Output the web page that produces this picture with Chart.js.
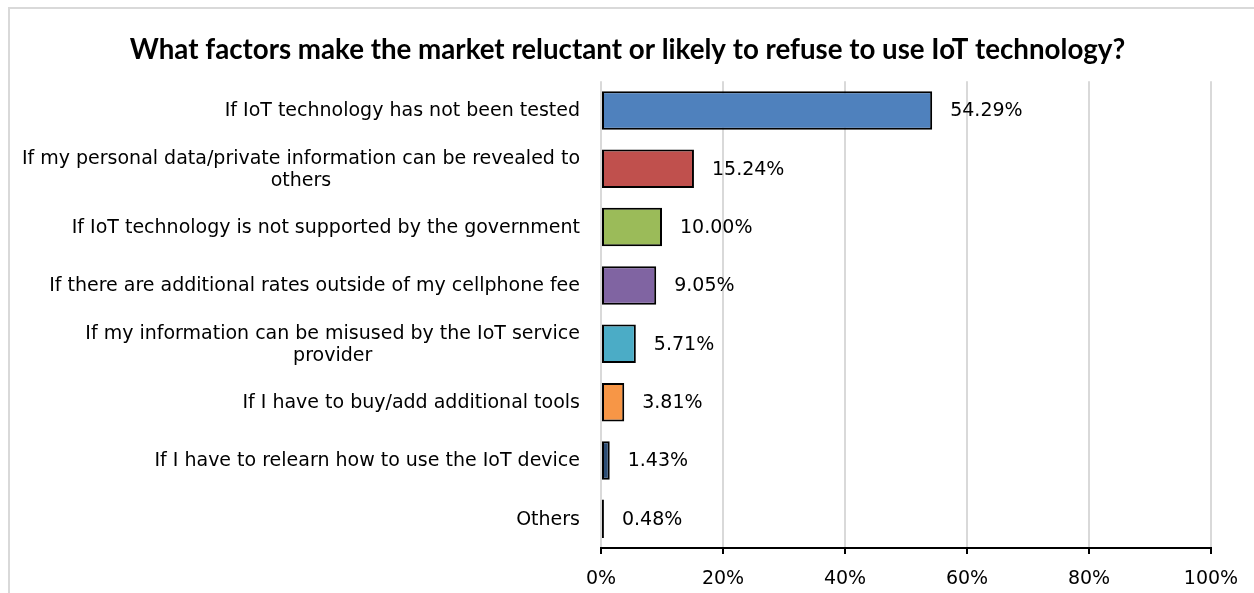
<!DOCTYPE html>
<html>
<head>
<meta charset="utf-8">
<script src="https://cdn.jsdelivr.net/npm/chart.js@4.4.1/dist/chart.umd.min.js"></script>
<style>
  html, body { margin: 0; padding: 0; background: #fff; }
  #wrap { position: relative; width: 1254px; height: 593px; overflow: hidden; }
  #frame { position: absolute; left: 8px; top: 7px; width: 1400px; height: 700px;
           border-left: 2px solid #d9d9d9; border-top: 2px solid #d9d9d9; box-sizing: border-box; }
  canvas { position: absolute; left: 0; top: 0; }
</style>
</head>
<body>
<div id="wrap">
  <div id="frame"></div>
  <canvas id="iotChart" width="1254" height="593"></canvas>
</div>
<script>
// survey answers, top to bottom
const categories = [
    'If IoT technology has not been tested',
    ['If my personal data/private information can be revealed to', 'others'],
    'If IoT technology is not supported by the government',
    'If there are additional rates outside of my cellphone fee',
    ['If my information can be misused by the IoT service', 'provider'],
    'If I have to buy/add additional tools',
    'If I have to relearn how to use the IoT device',
    'Others'
];
const shares = [54.29, 15.24, 10.00, 9.05, 5.71, 3.81, 1.43, 0.48];
const barColors = ['#4f81bd', '#c0504d', '#9bbb59', '#8064a2', '#4bacc6', '#f79646', '#2c4d75', '#772c2a'];
const xTicks = [0, 20, 40, 60, 80, 100];

const labelFamily = '"DejaVu Sans", sans-serif';
const labelSize = 19;
const labelFont = labelSize + 'px ' + labelFamily;

// value text to the right of each bar
const valueLabels = {
    id: 'valueLabels',
    afterDatasetsDraw(chart) {
        const ctx = chart.ctx;
        const meta = chart.getDatasetMeta(0);
        ctx.save();
        ctx.font = labelFont;
        ctx.fillStyle = '#000';
        ctx.textAlign = 'left';
        ctx.textBaseline = 'middle';
        meta.data.forEach((bar, i) => {
            ctx.fillText(shares[i].toFixed(2) + '%', bar.x + 18, bar.y + 1);
        });
        ctx.restore();
    }
};

// category text: block right-aligned to the axis, lines centred inside the block
const categoryLabels = {
    id: 'categoryLabels',
    afterDraw(chart) {
        const ctx = chart.ctx;
        const y = chart.scales.y;
        const right = chart.chartArea.left - 21;
        const lineH = 22;
        ctx.save();
        ctx.font = labelFont;
        ctx.fillStyle = '#000';
        ctx.textBaseline = 'middle';
        ctx.textAlign = 'center';
        categories.forEach((cat, i) => {
            const lines = Array.isArray(cat) ? cat : [cat];
            const widest = Math.max(...lines.map(l => ctx.measureText(l).width));
            const cy = y.getPixelForValue(i);
            const top = cy - (lines.length - 1) * lineH / 2;
            lines.forEach((l, j) => {
                ctx.fillText(l, right - widest / 2, top + j * lineH + 1);
            });
        });
        ctx.restore();
    }
};

new Chart(document.getElementById('iotChart'), {
    type: 'bar',
    data: {
        labels: categories,
        datasets: [{
            data: shares,
            backgroundColor: barColors,
            borderColor: '#000',
            borderWidth: 2,
            borderSkipped: false,
            barPercentage: 0.66,
            categoryPercentage: 1
        }]
    },
    options: {
        indexAxis: 'y',
        responsive: false,
        animation: false,
        layout: { padding: { left: 44, right: 43, top: 0, bottom: 0 } },
        plugins: {
            legend: { display: false },
            tooltip: { enabled: false },
            title: {
                display: true,
                text: 'What factors make the market reluctant or likely to refuse to use IoT technology?',
                color: '#000',
                font: { family: 'Lato, "Open Sans", sans-serif', size: 27.7, weight: 'bold' },
                padding: { top: 33, bottom: 15 }
            }
        },
        scales: {
            x: {
                min: 0,
                max: 100,
                afterBuildTicks: scale => { scale.ticks = xTicks.map(v => ({ value: v })); },
                afterFit: scale => { scale.height = 45; },
                ticks: {
                    color: '#000',
                    font: { family: labelFamily, size: labelSize },
                    padding: 14,
                    callback: v => v + '%'
                },
                grid: { color: '#d9d9d9', lineWidth: 2, tickColor: '#000', tickLength: 6, tickWidth: 2 },
                border: { display: true, color: '#000', width: 2 }
            },
            y: {
                ticks: { display: false },
                grid: { display: false },
                border: { display: false },
                afterFit: scale => { scale.width = 557; }
            }
        }
    },
    plugins: [valueLabels, categoryLabels]
});
</script>
</body>
</html>
